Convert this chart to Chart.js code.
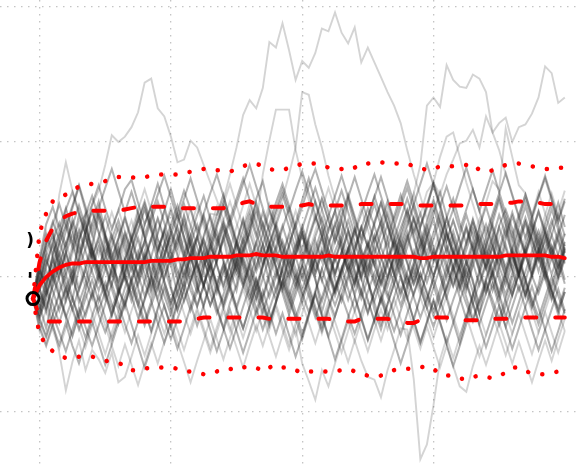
<!DOCTYPE html>
<html>
<head>
<meta charset="utf-8">
<script src="https://cdn.jsdelivr.net/npm/chart.js@4.4.0/dist/chart.umd.min.js"></script>
<style>
  html, body { margin: 0; padding: 0; background: #fff; }
  #chart { display: block; }
</style>
</head>
<body>
<canvas id="chart" width="577" height="466"></canvas>
<script>
// time steps and grid positions
const STEPS = Array.from({ length: 82 }, (_, i) => i);
const GRID_X = [1, 21, 41, 61];
const GRID_Y = [0, 10, 20, 30];

// summary lines (red)
const meanLine = [
  8.4, 9.4, 10.0, 10.4, 10.7, 10.9, 11.0, 11.0, 11.1, 11.1,
  11.1, 11.1, 11.1, 11.1, 11.1, 11.1, 11.1, 11.1, 11.2, 11.2,
  11.2, 11.2, 11.3, 11.3, 11.4, 11.4, 11.4, 11.5, 11.5, 11.5,
  11.5, 11.6, 11.6, 11.6, 11.7, 11.6, 11.6, 11.6, 11.5, 11.5,
  11.5, 11.5, 11.5, 11.5, 11.5, 11.6, 11.5, 11.5, 11.5, 11.5,
  11.5, 11.5, 11.5, 11.5, 11.5, 11.5, 11.5, 11.5, 11.5, 11.4,
  11.4, 11.5, 11.5, 11.5, 11.5, 11.5, 11.5, 11.5, 11.5, 11.5,
  11.5, 11.5, 11.6, 11.6, 11.6, 11.6, 11.6, 11.6, 11.6, 11.5,
  11.5, 11.4
];
const upperDashed = [
  8.4, 11.1, 12.7, 13.6, 14.2, 14.5, 14.7, 14.8, 14.9, 14.9,
  14.9, 14.9, 14.9, 14.9, 15.0, 15.1, 15.2, 15.2, 15.2, 15.2,
  15.2, 15.2, 15.1, 15.1, 15.1, 15.1, 15.1, 15.1, 15.1, 15.1,
  15.2, 15.3, 15.5, 15.6, 15.4, 15.3, 15.2, 15.2, 15.2, 15.2,
  15.3, 15.3, 15.4, 15.3, 15.3, 15.3, 15.3, 15.3, 15.3, 15.3,
  15.4, 15.4, 15.4, 15.4, 15.4, 15.4, 15.4, 15.4, 15.3, 15.3,
  15.3, 15.3, 15.3, 15.3, 15.3, 15.3, 15.3, 15.3, 15.4, 15.4,
  15.4, 15.4, 15.5, 15.5, 15.6, 15.6, 15.6, 15.5, 15.4, 15.4,
  15.4, 15.4
];
const lowerDashed = [
  8.4, 7.1, 6.7, 6.7, 6.7, 6.7, 6.7, 6.7, 6.7, 6.7,
  6.7, 6.7, 6.7, 6.7, 6.7, 6.7, 6.7, 6.7, 6.7, 6.7,
  6.7, 6.7, 6.7, 6.7, 6.8, 6.9, 7.0, 7.0, 7.0, 7.0,
  7.0, 7.0, 7.0, 7.0, 7.0, 7.0, 6.9, 6.9, 6.9, 6.9,
  6.9, 6.9, 6.9, 6.9, 6.9, 6.9, 6.8, 6.7, 6.7, 6.7,
  6.9, 6.9, 6.9, 6.9, 6.9, 6.8, 6.7, 6.6, 6.6, 6.8,
  7.0, 7.0, 7.0, 7.0, 6.8, 6.8, 6.8, 6.8, 6.8, 6.9,
  6.9, 6.9, 6.9, 7.0, 7.0, 7.0, 7.0, 7.0, 7.0, 7.0,
  7.0, 7.0
];
const upperDotted = [
  8.4, 13.3, 14.7, 15.6, 15.9, 16.1, 16.4, 16.7, 16.8, 16.9,
  17.0, 17.1, 17.3, 17.4, 17.4, 17.4, 17.3, 17.4, 17.5, 17.6,
  17.6, 17.6, 17.6, 17.7, 17.8, 17.9, 18.0, 17.9, 17.9, 17.9,
  17.8, 18.0, 18.2, 18.4, 18.4, 18.2, 18.0, 17.9, 17.9, 18.1,
  18.2, 18.4, 18.4, 18.4, 18.3, 18.1, 18.1, 18.0, 17.9, 18.1,
  18.4, 18.4, 18.5, 18.5, 18.4, 18.4, 18.4, 18.4, 18.2, 18.1,
  17.9, 18.0, 18.2, 18.2, 18.2, 18.2, 18.3, 18.4, 17.9, 17.8,
  17.9, 18.1, 18.3, 18.4, 18.4, 18.3, 18.2, 18.1, 18.0, 18.0,
  18.1, 18.1
];
const lowerDotted = [
  8.4, 5.7, 5.0, 4.5, 4.2, 4.0, 4.0, 4.1, 4.1, 4.1,
  4.0, 3.8, 3.7, 3.6, 3.5, 3.1, 3.1, 3.2, 3.3, 3.3,
  3.3, 3.3, 3.2, 3.0, 3.0, 2.9, 2.8, 2.8, 3.0, 3.2,
  3.2, 3.1, 3.3, 3.4, 3.3, 3.0, 3.3, 3.5, 3.3, 3.3,
  3.1, 2.9, 3.0, 3.0, 3.0, 3.0, 3.0, 3.1, 3.2, 3.0,
  2.8, 2.7, 2.6, 2.7, 2.9, 3.1, 3.2, 3.2, 3.2, 3.3,
  3.4, 3.2, 2.8, 2.7, 2.7, 2.5, 2.4, 2.6, 2.7, 2.6,
  2.5, 2.7, 2.9, 3.3, 3.3, 3.0, 2.9, 2.8, 2.8, 2.9,
  3.0, 3.0
];

// simulated paths (grey), the bulk that stays in the band
const path01 = [
  8.4, 9.6, 11.2, 10.1, 12.5, 13.8, 12.2, 14.6, 13.1, 11.5,
  12.8, 10.9, 9.4, 11.7, 13.3, 12.0, 14.2, 15.6, 13.9, 12.4,
  10.8, 12.1, 13.7, 11.9, 10.2, 8.9, 10.6, 12.3, 11.1, 13.0,
  14.4, 12.7, 11.3, 9.8, 11.6, 13.2, 14.9, 13.5, 12.1, 10.7,
  9.3, 10.9, 12.6, 11.2, 9.7, 11.5, 13.1, 12.0, 10.4, 11.8,
  13.6, 15.1, 13.8, 12.2, 10.9, 9.5, 11.0, 12.7, 14.3, 12.9,
  11.4, 10.0, 11.7, 13.4, 12.1, 10.6, 9.2, 10.8, 12.5, 13.9,
  12.3, 11.0, 12.8, 14.5, 13.0, 11.6, 10.1, 11.9, 13.3, 12.0,
  10.7, 11.9
];
const path02 = [
  8.4, 7.1, 8.3, 6.5, 7.9, 9.2, 7.6, 6.1, 7.4, 8.8,
  7.2, 5.9, 7.3, 8.7, 10.1, 8.6, 7.0, 8.4, 9.9, 8.2,
  6.8, 5.4, 6.9, 8.3, 9.7, 11.0, 9.4, 7.9, 9.1, 10.6,
  9.0, 7.5, 6.2, 7.8, 9.3, 8.0, 6.6, 8.1, 9.6, 8.3,
  7.0, 8.5, 10.0, 11.4, 9.8, 8.4, 7.1, 8.6, 7.2, 5.8,
  7.3, 8.9, 10.3, 8.8, 7.4, 6.0, 7.5, 9.0, 10.5, 9.1,
  7.7, 6.3, 7.8, 9.2, 10.8, 9.4, 8.0, 6.7, 8.2, 9.7,
  8.3, 6.9, 8.4, 9.9, 11.3, 9.8, 8.4, 7.0, 8.5, 10.0,
  8.6, 7.3
];
const path03 = [
  8.4, 10.2, 12.6, 14.1, 12.8, 15.0, 16.3, 14.7, 13.2, 15.4,
  16.8, 15.1, 13.6, 14.9, 16.5, 17.2, 15.5, 13.9, 15.3, 16.9,
  15.2, 13.5, 14.8, 16.4, 15.0, 13.3, 14.7, 16.2, 17.6, 16.0,
  14.3, 15.8, 17.3, 15.7, 14.0, 12.4, 13.9, 15.5, 16.9, 15.3,
  13.7, 15.2, 16.7, 18.0, 16.4, 14.8, 13.1, 14.6, 16.1, 14.5,
  12.9, 14.4, 15.9, 17.4, 15.8, 14.2, 15.6, 17.1, 15.5, 13.8,
  15.3, 16.8, 15.2, 13.6, 15.0, 16.6, 18.1, 16.5, 14.9, 13.2,
  14.7, 16.2, 17.7, 16.1, 14.5, 12.9, 14.3, 15.9, 17.3, 15.7,
  14.1, 15.6
];
const path04 = [
  8.4, 9.9, 8.7, 10.4, 11.8, 10.3, 12.0, 13.5, 11.9, 10.4,
  9.0, 10.6, 12.2, 13.7, 12.1, 10.5, 11.9, 10.2, 8.8, 10.3,
  11.8, 13.2, 11.6, 10.0, 11.5, 13.0, 11.3, 9.7, 11.2, 12.7,
  14.1, 12.5, 10.9, 9.4, 10.8, 12.4, 10.8, 12.3, 13.8, 12.2,
  10.6, 9.1, 10.5, 12.0, 13.6, 12.0, 10.3, 11.8, 13.3, 11.7,
  10.1, 11.6, 13.1, 11.5, 9.9, 11.4, 12.9, 14.4, 12.8, 11.2,
  9.6, 11.1, 12.6, 11.0, 9.4, 10.9, 12.4, 13.9, 12.3, 10.7,
  12.2, 13.7, 12.1, 10.5, 9.0, 10.4, 11.9, 13.4, 11.8, 10.2,
  11.7, 13.2
];
const path05 = [
  8.4, 6.8, 5.6, 7.2, 5.9, 4.5, 6.1, 7.7, 6.3, 4.9,
  6.4, 8.0, 9.5, 8.0, 6.5, 5.1, 6.7, 8.3, 9.8, 11.2,
  9.6, 8.1, 9.7, 11.1, 12.6, 11.0, 9.4, 7.9, 9.4, 10.9,
  9.3, 7.7, 6.2, 7.8, 9.3, 10.9, 12.4, 10.8, 9.2, 7.6,
  9.1, 10.7, 9.1, 7.5, 6.0, 7.6, 9.1, 10.6, 12.1, 10.5,
  8.9, 7.3, 8.9, 10.4, 8.8, 7.2, 5.7, 7.3, 8.8, 10.3,
  8.7, 7.1, 8.6, 10.2, 11.7, 10.1, 8.5, 6.9, 8.4, 9.9,
  11.4, 9.8, 8.2, 6.6, 8.1, 9.7, 8.1, 6.5, 8.0, 9.5,
  11.1, 9.5
];
const path06 = [
  8.4, 11.0, 13.1, 11.6, 13.4, 12.0, 14.3, 12.8, 14.6, 16.0,
  14.4, 12.9, 11.3, 12.8, 14.3, 12.7, 11.1, 12.6, 14.2, 15.6,
  14.0, 12.4, 13.9, 15.4, 13.8, 12.2, 10.7, 12.2, 13.7, 15.2,
  13.6, 12.0, 13.5, 14.9, 13.3, 11.7, 13.2, 14.7, 16.1, 14.5,
  12.9, 11.3, 12.8, 14.3, 15.8, 14.2, 12.6, 14.1, 12.5, 10.9,
  12.4, 13.9, 15.4, 13.8, 12.2, 13.7, 15.2, 16.6, 15.0, 13.4,
  11.8, 13.3, 14.8, 13.2, 11.6, 13.1, 14.6, 13.0, 11.4, 12.9,
  14.4, 15.9, 14.3, 12.7, 14.2, 15.7, 14.1, 12.5, 14.0, 15.5,
  13.9, 12.3
];
const path07 = [
  8.4, 7.6, 9.0, 7.3, 8.8, 10.2, 8.5, 7.0, 5.5, 7.1,
  8.6, 7.0, 5.4, 6.9, 8.5, 9.9, 8.3, 6.7, 8.2, 6.6,
  5.1, 6.6, 8.2, 9.6, 8.0, 6.4, 7.9, 9.4, 7.8, 6.2,
  4.7, 6.2, 7.8, 9.3, 7.7, 6.1, 7.6, 9.1, 10.6, 9.0,
  7.4, 5.8, 7.3, 8.8, 7.2, 5.6, 7.1, 8.7, 10.2, 8.6,
  7.0, 5.4, 6.9, 8.5, 7.0, 8.5, 10.0, 8.4, 6.8, 5.2,
  6.7, 8.3, 6.7, 5.1, 6.6, 8.2, 9.7, 8.1, 6.5, 8.0,
  9.5, 7.9, 6.3, 7.8, 9.3, 7.7, 6.1, 4.6, 6.1, 7.6,
  9.1, 7.5
];
const path08 = [
  8.4, 10.6, 9.3, 11.5, 10.0, 11.7, 13.2, 11.6, 13.1, 11.5,
  13.0, 14.5, 12.9, 11.3, 9.8, 11.3, 12.9, 11.3, 12.8, 14.3,
  12.7, 11.1, 12.6, 14.1, 12.5, 13.9, 12.3, 10.8, 12.3, 13.8,
  12.2, 10.6, 12.1, 13.6, 15.0, 13.4, 11.8, 13.3, 11.7, 10.1,
  11.6, 13.1, 11.5, 13.0, 14.4, 12.8, 11.2, 12.7, 14.2, 12.6,
  11.0, 12.5, 10.9, 12.4, 13.9, 12.3, 10.7, 12.2, 13.7, 12.1,
  13.6, 15.1, 13.5, 11.9, 13.4, 11.8, 10.2, 11.7, 13.2, 11.6,
  13.1, 11.5, 9.9, 11.4, 12.9, 14.4, 12.8, 11.2, 12.7, 14.2,
  12.6, 11.0
];
const path09 = [
  8.4, 9.1, 7.7, 9.3, 10.8, 9.2, 7.6, 9.1, 10.6, 9.0,
  7.5, 8.9, 10.4, 8.8, 10.3, 11.8, 10.2, 8.6, 10.1, 11.6,
  10.0, 11.5, 13.0, 11.4, 9.8, 11.3, 12.8, 11.2, 12.7, 14.2,
  12.6, 11.0, 12.5, 14.0, 15.5, 13.9, 12.3, 13.8, 15.3, 13.7,
  12.1, 13.6, 15.1, 16.6, 15.0, 13.4, 14.9, 16.4, 14.8, 13.2,
  14.7, 16.2, 17.6, 16.0, 14.4, 12.8, 14.3, 15.8, 14.2, 12.6,
  14.1, 15.6, 14.0, 12.4, 10.8, 12.3, 13.8, 12.2, 13.7, 15.2,
  13.6, 12.0, 10.4, 11.9, 13.4, 11.8, 13.3, 14.8, 13.2, 11.6,
  13.1, 14.6
];
const path10 = [
  8.4, 11.4, 13.9, 15.2, 13.6, 15.1, 13.5, 11.9, 13.4, 14.9,
  13.3, 11.7, 10.1, 11.6, 13.1, 11.5, 9.9, 11.4, 12.9, 11.3,
  9.7, 8.1, 9.6, 11.1, 9.5, 7.9, 9.4, 10.9, 9.3, 7.7,
  9.2, 10.7, 12.2, 10.6, 9.0, 7.4, 8.9, 10.4, 8.8, 7.2,
  8.7, 10.2, 8.6, 7.0, 8.5, 10.0, 11.5, 9.9, 8.3, 9.8,
  11.3, 9.7, 8.1, 6.5, 8.0, 9.5, 7.9, 9.4, 10.9, 9.3,
  7.7, 9.2, 10.7, 12.2, 10.6, 9.0, 10.5, 8.9, 7.3, 8.8,
  10.3, 8.7, 10.2, 11.7, 10.1, 8.5, 10.0, 11.5, 9.9, 8.3,
  9.8, 11.3
];
const path11 = [
  8.4, 8.0, 9.8, 11.3, 9.7, 8.2, 9.8, 11.4, 12.9, 11.3,
  9.7, 11.2, 12.8, 14.2, 12.6, 11.0, 9.4, 10.9, 9.3, 10.8,
  12.4, 13.9, 15.3, 13.7, 12.1, 10.5, 12.0, 10.4, 8.8, 10.3,
  11.9, 10.3, 11.8, 13.3, 11.7, 10.1, 8.5, 10.0, 11.6, 13.1,
  11.5, 9.9, 11.4, 9.8, 8.2, 9.7, 11.3, 12.8, 11.2, 9.6,
  11.1, 12.6, 11.0, 9.4, 10.9, 12.5, 10.9, 9.3, 10.8, 12.3,
  13.8, 12.2, 10.6, 9.0, 10.5, 12.1, 13.6, 12.0, 10.4, 8.8,
  10.3, 11.8, 13.3, 11.7, 10.1, 11.6, 13.1, 11.5, 9.9, 11.4,
  12.9, 11.3
];
const path12 = [
  8.4, 7.3, 8.7, 10.0, 8.5, 7.0, 8.4, 6.9, 8.4, 9.8,
  8.2, 9.6, 8.0, 6.5, 8.0, 9.4, 7.9, 6.4, 7.9, 9.3,
  10.7, 9.1, 7.6, 9.0, 7.5, 8.9, 10.4, 8.8, 7.3, 8.7,
  10.2, 11.6, 10.0, 8.5, 9.9, 8.3, 6.8, 8.2, 9.7, 8.1,
  9.5, 10.9, 9.4, 7.8, 6.3, 7.8, 9.2, 10.7, 9.1, 7.5,
  9.0, 7.4, 8.9, 10.3, 11.8, 10.2, 8.6, 10.1, 8.5, 7.0,
  8.4, 9.9, 8.3, 6.8, 8.3, 9.7, 11.2, 9.6, 8.0, 9.5,
  7.9, 6.4, 7.9, 9.3, 10.8, 9.2, 7.7, 9.1, 10.6, 9.0,
  7.5, 8.9
];
const path13 = [
  8.4, 10.9, 12.3, 13.9, 15.4, 13.8, 15.3, 16.8, 15.2, 13.6,
  15.1, 16.6, 18.0, 16.4, 14.8, 16.3, 14.7, 13.1, 14.6, 16.1,
  17.5, 15.9, 14.3, 15.8, 17.3, 15.7, 14.1, 12.5, 14.0, 15.5,
  13.9, 15.4, 16.9, 18.3, 16.7, 15.1, 13.5, 15.0, 16.5, 14.9,
  16.4, 17.8, 16.2, 14.6, 13.0, 14.5, 16.0, 17.5, 15.9, 17.4,
  15.8, 14.2, 12.6, 14.1, 15.6, 14.0, 12.4, 13.9, 15.4, 16.9,
  18.4, 16.8, 15.2, 16.7, 15.1, 13.5, 15.0, 16.5, 14.9, 16.4,
  17.9, 16.3, 14.7, 13.1, 14.6, 16.1, 14.5, 16.0, 17.5, 15.9,
  14.3, 15.8
];
const path14 = [
  8.4, 6.2, 4.9, 6.4, 5.0, 6.6, 4.9, 3.6, 5.2, 6.7,
  5.1, 3.5, 5.0, 6.6, 8.1, 6.5, 4.9, 3.3, 4.8, 6.4,
  7.9, 6.3, 4.7, 6.2, 7.8, 9.3, 7.7, 6.1, 4.5, 6.0,
  7.6, 6.0, 4.4, 5.9, 7.5, 9.0, 7.4, 5.8, 7.3, 5.7,
  4.1, 5.6, 7.2, 8.7, 7.1, 5.5, 3.9, 5.4, 7.0, 8.5,
  6.9, 5.3, 6.8, 8.4, 6.8, 5.2, 3.6, 5.1, 6.7, 5.1,
  6.6, 8.2, 6.6, 5.0, 3.4, 4.9, 6.5, 8.0, 6.4, 4.8,
  6.3, 7.9, 6.3, 4.7, 6.2, 7.8, 9.3, 7.7, 6.1, 4.5,
  6.0, 7.6
];
const path15 = [
  8.4, 9.4, 10.9, 12.4, 10.9, 12.5, 14.0, 12.4, 10.8, 12.3,
  10.7, 9.1, 10.6, 12.1, 10.5, 12.0, 13.5, 15.0, 13.4, 11.8,
  13.3, 11.7, 10.1, 11.6, 13.1, 11.5, 13.0, 14.5, 12.9, 11.3,
  9.7, 11.2, 9.6, 11.1, 12.6, 11.0, 12.5, 14.0, 12.4, 10.8,
  12.3, 13.8, 12.2, 10.6, 12.1, 10.5, 8.9, 10.4, 11.9, 13.4,
  11.8, 10.2, 11.7, 13.2, 14.7, 13.1, 11.5, 13.0, 11.4, 9.8,
  11.3, 12.8, 14.3, 12.7, 14.2, 12.6, 11.0, 12.5, 10.9, 12.4,
  13.9, 12.3, 10.7, 12.2, 13.7, 15.2, 13.6, 12.0, 10.4, 11.9,
  13.4, 11.8
];
const path16 = [
  8.4, 9.0, 10.5, 9.0, 7.5, 9.1, 10.6, 9.0, 10.5, 12.0,
  10.4, 8.8, 7.2, 8.7, 10.2, 11.7, 10.1, 11.6, 10.0, 8.4,
  9.9, 11.4, 9.8, 8.2, 9.7, 11.2, 12.7, 11.1, 9.5, 11.0,
  9.4, 7.8, 9.3, 10.8, 9.2, 10.7, 12.2, 10.6, 9.0, 10.5,
  12.0, 13.5, 11.9, 10.3, 11.8, 10.2, 8.6, 10.1, 11.6, 10.0,
  8.4, 9.9, 11.4, 9.8, 11.3, 12.8, 11.2, 9.6, 11.1, 12.6,
  11.0, 9.4, 7.8, 9.3, 10.8, 9.2, 10.7, 12.2, 10.6, 9.0,
  10.5, 8.9, 10.4, 11.9, 10.3, 8.7, 10.2, 11.7, 13.2, 11.6,
  10.0, 11.5
];
const path17 = [
  8.4, 10.3, 12.5, 13.4, 11.2, 9.6, 8.3, 10.7, 12.1, 14.0,
  15.6, 13.1, 11.8, 9.2, 7.7, 9.9, 11.4, 13.9, 15.2, 12.8,
  11.9, 9.3, 7.5, 9.1, 11.8, 13.0, 11.3, 9.9, 7.6, 6.2,
  8.1, 9.4, 12.0, 13.3, 15.8, 17.1, 15.0, 13.7, 11.2, 9.5,
  11.8, 13.2, 11.0, 9.9, 7.4, 9.2, 11.9, 13.1, 15.7, 13.8,
  11.3, 9.8, 7.6, 6.1, 8.0, 9.5, 11.9, 13.3, 11.4, 13.7,
  15.1, 17.0, 15.5, 13.2, 11.8, 9.4, 11.1, 9.8, 7.3, 9.7,
  11.2, 13.8, 15.0, 13.6, 11.0, 9.9, 7.9, 9.4, 11.7, 13.1,
  11.6, 9.8
];
const path18 = [
  8.4, 7.9, 6.2, 8.5, 10.1, 11.8, 10.2, 12.6, 14.3, 12.0,
  10.4, 8.7, 7.1, 8.9, 11.3, 12.7, 14.8, 13.0, 11.1, 9.5,
  7.8, 6.3, 8.0, 9.7, 11.5, 9.6, 11.2, 12.9, 14.6, 16.1,
  14.2, 12.4, 10.6, 8.8, 7.2, 8.6, 10.3, 12.1, 10.3, 8.6,
  6.9, 5.4, 7.1, 8.8, 10.6, 12.3, 14.0, 12.2, 10.5, 8.7,
  10.4, 12.2, 13.9, 15.5, 13.8, 12.0, 10.2, 8.5, 6.8, 8.6,
  10.3, 12.0, 10.2, 8.4, 6.7, 5.1, 6.9, 8.7, 10.5, 12.3,
  14.0, 15.7, 13.9, 12.1, 10.3, 12.0, 13.8, 12.0, 10.2, 8.5,
  10.2, 12.0
];
const path19 = [
  8.4, 9.7, 11.5, 9.8, 11.6, 13.4, 15.1, 16.7, 14.9, 13.1,
  14.8, 13.0, 11.2, 9.5, 11.3, 9.6, 7.9, 9.7, 11.5, 13.2,
  14.9, 16.5, 14.7, 12.9, 11.1, 12.8, 14.5, 12.7, 10.9, 9.2,
  10.9, 12.6, 14.3, 12.5, 10.7, 12.4, 10.6, 8.9, 10.6, 12.3,
  14.0, 15.7, 17.3, 15.5, 13.7, 11.9, 10.1, 11.8, 13.5, 11.7,
  9.9, 11.6, 9.8, 8.1, 9.8, 11.5, 13.2, 14.9, 13.1, 11.3,
  13.0, 14.7, 16.3, 14.5, 12.7, 10.9, 12.6, 14.3, 12.5, 10.7,
  9.0, 10.7, 12.4, 10.6, 12.3, 14.0, 12.2, 10.4, 12.1, 13.8,
  15.5, 13.7
];
const path20 = [
  8.4, 6.9, 8.6, 10.2, 8.7, 7.1, 5.6, 7.3, 9.0, 10.6,
  12.2, 10.7, 9.1, 7.5, 9.2, 10.8, 9.2, 7.6, 6.0, 7.7,
  9.3, 7.7, 9.4, 11.0, 12.6, 11.0, 9.4, 11.1, 9.5, 7.9,
  9.5, 11.2, 12.8, 11.2, 9.6, 8.0, 6.4, 8.1, 9.7, 11.3,
  9.7, 8.1, 9.8, 11.4, 13.0, 11.4, 9.8, 8.2, 9.9, 11.5,
  9.9, 8.3, 6.7, 8.4, 10.0, 11.6, 10.0, 8.4, 10.0, 11.7,
  13.3, 11.7, 10.1, 8.5, 10.1, 8.5, 6.9, 8.6, 10.2, 11.8,
  10.2, 8.6, 7.0, 8.7, 10.3, 8.7, 10.3, 12.0, 10.4, 8.8,
  7.2, 8.9
];
const path21 = [
  8.4, 9.3, 12.0, 13.1, 10.4, 11.9, 9.7, 12.8, 14.0, 11.6,
  10.2, 12.9, 11.0, 8.9, 10.5, 13.0, 11.3, 12.6, 10.1, 9.0,
  11.4, 13.5, 12.2, 14.6, 12.3, 10.7, 9.2, 11.8, 13.4, 11.1,
  9.9, 12.5, 14.2, 12.0, 10.4, 11.7, 9.6, 8.3, 10.8, 12.4,
  13.9, 11.5, 10.0, 12.7, 11.2, 13.6, 14.9, 12.4, 10.9, 9.4,
  11.9, 10.3, 12.8, 14.1, 11.7, 10.2, 12.6, 11.1, 9.5, 11.0,
  12.9, 14.3, 12.1, 10.6, 13.0, 11.4, 9.8, 11.3, 13.7, 12.2,
  10.5, 12.0, 13.8, 11.6, 10.1, 12.4, 14.0, 12.5, 10.8, 12.3,
  11.0, 12.6
];
const path22 = [
  8.4, 8.9, 7.4, 9.8, 11.1, 8.6, 10.3, 8.1, 9.5, 11.9,
  10.0, 8.4, 10.8, 12.3, 9.9, 8.2, 9.6, 11.4, 9.1, 10.6,
  12.5, 10.9, 8.7, 10.2, 11.8, 9.4, 7.9, 9.8, 11.2, 12.9,
  10.6, 9.0, 11.5, 10.1, 8.5, 10.9, 12.4, 10.8, 9.3, 11.7,
  10.2, 8.6, 9.9, 11.6, 13.0, 10.7, 9.1, 10.5, 12.1, 10.4,
  8.8, 11.0, 9.5, 11.3, 12.8, 10.3, 8.9, 10.4, 11.9, 9.6,
  8.2, 10.0, 11.5, 9.9, 12.0, 10.5, 9.0, 11.1, 9.4, 10.9,
  12.6, 10.2, 8.7, 10.3, 11.8, 9.7, 11.4, 12.8, 10.6, 9.1,
  10.7, 12.2
];
const path23 = [
  8.4, 10.5, 9.1, 11.7, 13.0, 14.4, 12.6, 11.0, 13.5, 12.1,
  14.7, 13.2, 11.5, 12.9, 14.5, 12.8, 14.1, 15.4, 13.6, 12.0,
  13.4, 14.9, 13.1, 11.6, 13.0, 14.6, 16.0, 14.3, 12.5, 14.0,
  12.7, 11.2, 12.9, 14.5, 13.0, 14.8, 13.3, 11.9, 13.6, 15.1,
  13.4, 12.0, 14.0, 15.6, 14.1, 12.5, 13.8, 15.2, 13.5, 12.1,
  13.7, 12.2, 14.1, 15.5, 13.9, 12.3, 13.6, 15.0, 13.3, 14.7,
  13.0, 11.4, 12.8, 14.4, 15.8, 14.0, 12.5, 14.2, 12.7, 11.3,
  12.9, 14.6, 13.1, 14.8, 13.2, 11.7, 13.3, 14.9, 13.4, 15.0,
  13.5, 12.0
];
const path24 = [
  8.4, 7.5, 9.2, 8.0, 6.6, 8.3, 9.9, 8.5, 7.1, 8.8,
  10.3, 8.9, 7.6, 9.1, 8.0, 9.7, 11.2, 9.6, 8.3, 9.9,
  8.6, 7.2, 8.9, 10.5, 9.0, 7.8, 9.4, 10.8, 9.3, 8.1,
  9.7, 11.0, 9.5, 8.2, 9.8, 8.4, 10.0, 11.5, 9.9, 8.6,
  10.1, 8.8, 7.4, 9.0, 10.6, 9.2, 7.9, 9.3, 10.9, 9.4,
  11.0, 9.6, 8.2, 9.8, 8.5, 10.1, 11.6, 10.0, 8.7, 10.2,
  8.9, 7.5, 9.1, 10.7, 9.3, 10.8, 9.5, 8.0, 9.6, 11.1,
  9.7, 8.3, 9.9, 8.6, 10.2, 11.7, 10.1, 8.8, 10.3, 9.0,
  7.7, 9.2
];
const path25 = [
  8.4, 9.0, 10.8, 12.6, 14.0, 12.3, 13.8, 15.3, 13.7, 12.0,
  10.6, 12.2, 11.0, 9.7, 11.3, 12.8, 14.3, 12.9, 11.4, 10.0,
  11.6, 13.1, 14.6, 13.0, 11.5, 10.1, 11.8, 10.5, 12.1, 13.6,
  12.1, 10.6, 9.3, 10.9, 12.5, 14.0, 12.6, 11.2, 12.7, 11.3,
  9.9, 11.5, 13.0, 14.5, 13.1, 11.6, 10.3, 11.9, 10.5, 12.1,
  13.7, 12.2, 10.8, 9.5, 11.1, 12.7, 11.3, 12.9, 14.4, 12.9,
  11.5, 10.1, 11.7, 13.2, 11.8, 10.4, 12.0, 13.5, 12.0, 10.6,
  12.2, 10.8, 9.4, 11.0, 12.6, 14.1, 12.7, 11.3, 12.8, 11.4,
  10.0, 11.6
];
const path26 = [
  8.4, 7.8, 9.5, 11.0, 12.7, 11.1, 9.6, 11.2, 9.8, 8.4,
  10.0, 11.6, 13.1, 11.6, 10.1, 8.7, 10.3, 11.9, 10.4, 12.0,
  13.5, 12.0, 10.5, 9.1, 10.7, 9.3, 10.9, 12.4, 10.9, 9.4,
  11.0, 12.6, 11.1, 9.7, 8.3, 9.9, 11.5, 13.0, 11.5, 10.0,
  11.6, 13.2, 11.7, 10.2, 11.8, 10.3, 8.9, 10.5, 12.1, 13.6,
  12.1, 10.6, 12.2, 10.7, 9.3, 10.9, 12.5, 11.0, 9.5, 11.1,
  12.7, 11.2, 12.8, 14.3, 12.8, 11.3, 9.8, 11.4, 13.0, 11.5,
  10.0, 11.6, 10.1, 8.7, 10.3, 11.9, 10.4, 12.0, 13.5, 12.0,
  10.5, 12.1
];

// simulated paths with large excursions
const wild01 = [
  8.4, 10.1, 11.9, 10.6, 12.4, 13.9, 12.5, 14.1, 14.6, 15.3,
  16.4, 18.3, 20.5, 20.0, 20.4, 21.1, 22.2, 24.4, 24.7, 22.5,
  21.9, 20.4, 18.5, 18.7, 20.1, 19.6, 18.3, 17.0, 15.7, 14.2,
  15.6, 14.0, 12.5, 13.9, 12.2, 10.8, 12.4, 13.8, 12.3, 10.9,
  12.5, 11.0, 9.6, 11.2, 12.7, 11.1, 12.6, 14.2, 12.7, 11.2,
  9.8, 11.4, 13.0, 11.5, 10.0, 11.6, 13.1, 11.6, 10.1, 8.7,
  10.3, 11.9, 13.4, 11.8, 10.3, 11.9, 13.5, 12.0, 10.5, 12.1,
  13.6, 12.1, 10.6, 9.1, 10.7, 12.2, 10.7, 12.3, 13.8, 12.3,
  10.8, 12.4
];
const wild02 = [
  8.4, 7.2, 8.9, 10.5, 9.0, 10.7, 12.3, 10.8, 9.2, 10.9,
  12.5, 11.0, 9.5, 11.1, 12.7, 14.2, 12.6, 11.1, 12.8, 14.4,
  12.9, 11.3, 12.9, 14.5, 13.0, 11.5, 13.1, 14.7, 14.6, 15.7,
  17.6, 19.6, 22.0, 23.1, 22.5, 24.0, 27.4, 27.0, 28.8, 26.8,
  24.6, 26.0, 25.5, 26.6, 28.4, 28.2, 29.6, 28.1, 27.3, 28.5,
  25.9, 27.0, 25.9, 24.8, 23.7, 22.7, 21.4, 19.4, 17.6, 16.0,
  14.3, 15.8, 14.1, 12.6, 14.2, 12.7, 11.1, 12.8, 14.3, 12.8,
  11.2, 12.9, 14.4, 12.9, 11.3, 13.0, 14.5, 13.0, 11.4, 13.1,
  14.6, 13.1
];
const wild03 = [
  8.4, 9.8, 11.5, 13.1, 11.6, 10.0, 11.7, 13.3, 14.8, 13.2,
  11.6, 13.2, 14.8, 13.3, 11.7, 13.4, 15.0, 16.5, 14.9, 13.3,
  14.9, 13.4, 11.8, 13.5, 15.1, 13.5, 12.0, 13.6, 15.2, 13.6,
  12.1, 13.7, 15.3, 16.9, 15.3, 13.7, 15.4, 14.1, 15.8, 17.6,
  19.6, 23.7, 23.5, 21.3, 19.6, 17.5, 15.8, 14.2, 15.9, 14.3,
  12.7, 14.4, 16.0, 14.4, 12.8, 14.5, 16.1, 14.5, 16.2, 18.3,
  22.7, 23.3, 22.6, 25.7, 24.6, 24.1, 24.0, 25.0, 24.7, 23.7,
  20.7, 19.4, 17.6, 16.0, 14.4, 16.1, 14.5, 12.9, 14.6, 16.2,
  14.6, 13.0
];
const wild04 = [
  8.4, 9.2, 7.6, 9.3, 10.9, 12.5, 10.9, 9.3, 10.9, 12.6,
  14.2, 12.6, 11.0, 12.7, 11.1, 9.5, 11.2, 12.8, 14.4, 12.8,
  11.2, 9.6, 11.3, 12.9, 11.3, 13.0, 14.6, 13.0, 11.4, 13.1,
  11.5, 9.9, 11.6, 13.2, 14.8, 13.2, 11.6, 10.0, 11.7, 13.3,
  14.9, 13.3, 11.7, 13.4, 15.0, 16.6, 15.0, 13.4, 11.8, 13.5,
  15.1, 13.5, 11.9, 13.6, 15.2, 13.6, 12.0, 13.7, 15.3, 13.7,
  15.4, 17.0, 16.1, 17.6, 18.7, 19.9, 20.1, 20.9, 19.6, 21.9,
  20.7, 21.4, 21.8, 20.0, 21.1, 21.3, 22.1, 23.3, 25.6, 25.1,
  22.9, 23.3
];
const wild05 = [
  8.4, 11.2, 13.4, 12.0, 16.1, 18.5, 16.4, 14.9, 13.3, 14.9,
  13.3, 11.7, 13.4, 15.0, 13.4, 11.8, 13.5, 15.1, 13.5, 11.9,
  13.6, 15.2, 13.6, 12.0, 13.7, 15.3, 13.7, 12.1, 13.8, 15.4,
  16.9, 15.3, 13.7, 15.4, 13.8, 17.6, 20.1, 22.4, 22.4, 22.4,
  19.4, 17.3, 15.7, 14.1, 15.8, 14.2, 12.6, 14.3, 15.9, 14.3,
  12.7, 14.4, 16.0, 14.4, 12.8, 14.5, 16.1, 14.5, 16.2, 14.6,
  16.3, 17.0, 18.9, 20.4, 20.7, 18.9, 17.0, 15.4, 13.8, 15.5,
  17.1, 16.5, 21.0, 18.9, 16.8, 16.2, 14.6, 16.3, 14.7, 13.1,
  14.8, 16.4
];
const wild06 = [
  8.4, 6.5, 5.1, 6.6, 4.4, 1.6, 3.7, 5.3, 3.1, 4.6,
  3.9, 2.9, 4.4, 2.2, 2.6, 4.1, 5.7, 4.2, 5.8, 7.3,
  5.8, 7.4, 8.9, 7.3, 5.8, 7.4, 5.9, 4.4, 5.9, 7.5,
  6.0, 7.6, 9.1, 7.6, 6.0, 7.6, 6.1, 7.7, 6.1, 4.6,
  6.2, 3.6, 2.3, 0.9, 3.1, 1.9, 3.6, 5.2, 6.7, 5.2,
  6.8, 8.3, 6.8, 5.3, 6.9, 8.4, 6.9, 5.4, 7.0, 8.5,
  7.0, 5.5, 7.1, 8.6, 7.1, 5.6, 7.2, 8.7, 7.2, 5.7,
  7.3, 8.8, 7.3, 5.8, 7.4, 8.9, 7.4, 5.9, 7.5, 9.0,
  7.5, 6.0
];
const wild07 = [
  8.4, 7.0, 5.6, 7.1, 8.7, 7.2, 5.7, 7.3, 8.8, 7.3,
  5.8, 4.3, 5.9, 7.4, 5.9, 7.5, 9.0, 7.5, 6.0, 7.6,
  9.1, 7.6, 6.1, 4.6, 6.2, 7.7, 6.2, 4.7, 6.3, 7.8,
  6.3, 4.8, 3.3, 4.9, 6.4, 4.9, 6.5, 8.0, 6.5, 5.0,
  6.6, 8.1, 6.6, 5.1, 6.7, 8.2, 6.7, 5.2, 3.7, 5.3,
  3.8, 2.6, 2.4, 1.1, 3.1, 4.6, 6.2, 6.1, 2.4, -3.5,
  -2.4, 0.5, 3.9, 5.5, 4.0, 5.6, 7.1, 5.6, 4.1, 5.7,
  7.2, 5.7, 4.2, 5.8, 7.3, 5.8, 4.3, 5.9, 7.4, 5.9,
  4.4, 6.0
];
const wild08 = [
  8.4, 6.0, 7.6, 6.1, 4.7, 6.2, 7.8, 6.3, 4.8, 6.4,
  7.9, 6.4, 4.9, 3.4, 5.0, 3.5, 2.0, 3.6, 5.1, 3.6,
  5.2, 6.7, 5.2, 3.7, 2.2, 3.8, 5.3, 6.9, 5.4, 3.9,
  5.5, 7.0, 5.5, 7.1, 8.6, 7.1, 5.6, 4.1, 5.7, 7.2,
  5.7, 7.3, 8.8, 7.3, 5.8, 7.4, 5.9, 4.4, 6.0, 7.5,
  6.0, 4.5, 6.1, 7.6, 6.1, 7.7, 9.2, 7.7, 6.2, 4.7,
  6.3, 4.8, 3.3, 4.9, 3.4, 1.9, 1.5, 3.4, 4.9, 3.5,
  5.0, 6.6, 5.1, 3.6, 5.2, 3.7, 2.2, 3.8, 5.3, 3.8,
  5.4, 6.9
];

const BAND_PATHS = [
  path01, path02, path03, path04, path05, path06, path07, path08, path09, path10,
  path11, path12, path13, path14, path15, path16, path17, path18, path19, path20,
  path21, path22, path23, path24, path25, path26
];
const WILD_PATHS = [wild01, wild02, wild03, wild04, wild05, wild06, wild07, wild08];

const toXY = vals => vals.map((v, i) => ({ x: STEPS[i], y: v }));

const RED = '#ff0000';
const redLine = (label, vals, width, dash) => ({
  label,
  data: toXY(vals),
  borderColor: RED,
  borderWidth: width,
  borderDash: dash,
  borderCapStyle: 'round',
  pointRadius: 0,
  tension: 0,
  order: 0
});
const greyLine = (label, vals, colour, width) => ({
  label,
  data: toXY(vals),
  borderColor: colour,
  borderWidth: width,
  pointRadius: 0,
  tension: 0,
  order: 1
});

const datasets = [
  {
    label: 'start',
    data: [{ x: STEPS[0], y: meanLine[0] }],
    showLine: false,
    pointRadius: 6,
    pointBorderWidth: 3,
    pointBorderColor: '#000',
    pointBackgroundColor: 'rgba(0,0,0,0)',
    order: -1
  },
  redLine('mean', meanLine, 3.8, []),
  redLine('upper dashed', upperDashed, 4, [11, 19]),
  redLine('lower dashed', lowerDashed, 4, [11, 19]),
  redLine('upper dotted', upperDotted, 4.5, [0.1, 14.2]),
  redLine('lower dotted', lowerDotted, 4.5, [0.1, 14.2])
];
BAND_PATHS.forEach((p, k) => datasets.push(greyLine('path ' + (k + 1), p, 'rgba(40,40,40,0.35)', 2)));
WILD_PATHS.forEach((p, k) => datasets.push(greyLine('wild ' + (k + 1), p, 'rgba(60,60,60,0.22)', 1.9)));

// stray glyphs at the left edge
const edgeMarks = {
  id: 'edgeMarks',
  afterDatasetsDraw(chart) {
    const x0 = chart.scales.x.getPixelForValue(0);
    const ctx = chart.ctx;
    ctx.save();
    ctx.fillStyle = '#000';
    ctx.textAlign = 'center';
    ctx.textBaseline = 'middle';
    ctx.font = 'bold 17px "DejaVu Sans"';
    ctx.fillText(')', x0 - 3, chart.scales.y.getPixelForValue(12.6));
    ctx.font = 'bold 22px "DejaVu Sans"';
    ctx.fillText('\'', x0 - 3, chart.scales.y.getPixelForValue(9.6));
    ctx.restore();
  }
};

new Chart(document.getElementById('chart'), {
  type: 'line',
  data: { datasets },
  plugins: [edgeMarks],
  options: {
    responsive: false,
    animation: false,
    layout: { padding: 0, autoPadding: false },
    plugins: { legend: { display: false }, tooltip: { enabled: false } },
    scales: {
      x: {
        type: 'linear',
        min: -5.03,
        max: 82.86,
        afterBuildTicks: s => { s.ticks = GRID_X.map(v => ({ value: v })); },
        ticks: { display: false },
        grid: { color: '#c4c4c4', lineWidth: 1.3, drawTicks: false },
        border: { display: false, dash: [1.5, 5.5] }
      },
      y: {
        type: 'linear',
        min: -4.0,
        max: 30.52,
        afterBuildTicks: s => { s.ticks = GRID_Y.map(v => ({ value: v })); },
        ticks: { display: false },
        grid: { color: '#c4c4c4', lineWidth: 1.3, drawTicks: false },
        border: { display: false, dash: [1.5, 5.5] }
      }
    }
  }
});
</script>
</body>
</html>
